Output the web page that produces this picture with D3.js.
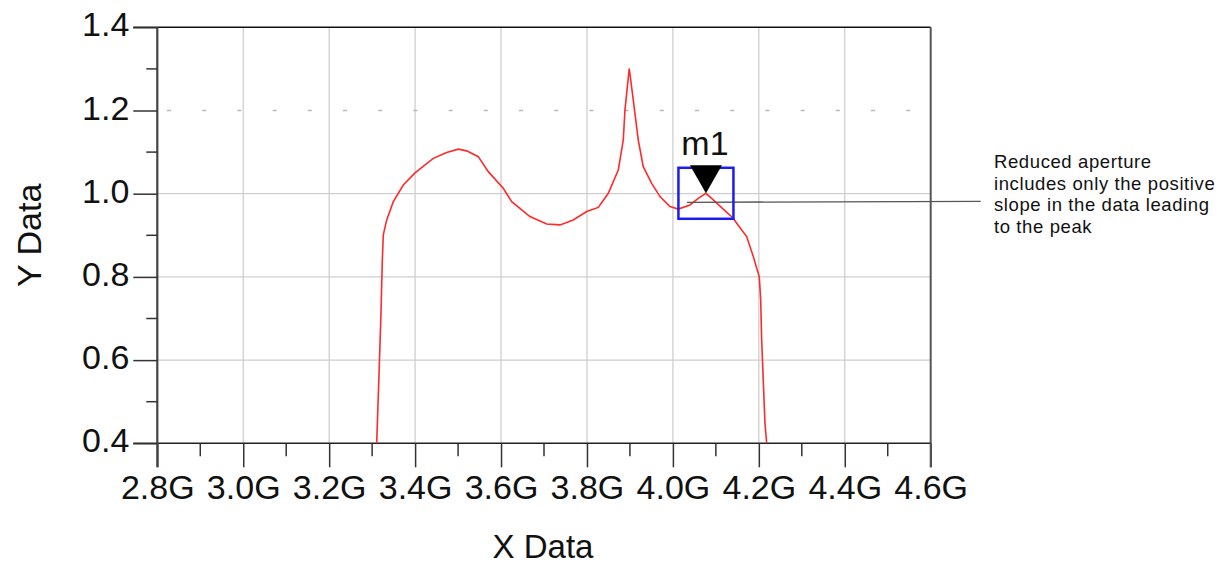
<!DOCTYPE html>
<html lang="en">
<head>
  <meta charset="UTF-8">
  <title>Y Data vs X Data</title>
  <script src="https://d3js.org/d3.v7.min.js"></script>
  <style>
    body {
      margin: 0;
      background: #fff;
      font-family: "Liberation Sans", Arial, sans-serif;
    }
  </style>
</head>
<body>
  <svg id="chart" width="1224" height="567"></svg>

<script>
// Trace (frequency in GHz)
const freqGHz = [3.3106, 3.3166, 3.3206, 3.3236, 3.326, 3.3339, 3.3493, 3.3725, 3.3997, 3.4423,
  3.4735, 3.5005, 3.52, 3.547, 3.5703, 3.6052, 3.6248, 3.6673, 3.7062, 3.7372,
  3.7681, 3.7993, 3.8263, 3.8496, 3.8729, 3.8845, 3.8884, 3.8984, 3.9078, 3.9194,
  3.931, 3.9506, 3.9699, 3.9932, 4.0125, 4.0397, 4.059, 4.0769, 4.0939, 4.1172,
  4.1405, 4.1484, 4.1717, 4.1871, 4.201, 4.2043, 4.2066, 4.2103, 4.2143, 4.2182];
const yData = [0.40, 0.584, 0.7125, 0.837, 0.901, 0.937, 0.981, 1.021, 1.050, 1.085,
  1.099, 1.107, 1.103, 1.089, 1.053, 1.013, 0.981, 0.945, 0.927, 0.925,
  0.937, 0.957, 0.967, 1.001, 1.057, 1.129, 1.201, 1.301, 1.225, 1.129,
  1.065, 1.025, 0.993, 0.969, 0.963, 0.973, 0.989, 1.001, 0.985, 0.963,
  0.941, 0.929, 0.897, 0.849, 0.800, 0.745, 0.648, 0.552, 0.448, 0.40];

const xTicks = [2.8, 3.0, 3.2, 3.4, 3.6, 3.8, 4.0, 4.2, 4.4, 4.6];
const xMinorTicks = [2.9, 3.1, 3.3, 3.5, 3.7, 3.9, 4.1, 4.3, 4.5];
const yTicks = [0.4, 0.6, 0.8, 1.0, 1.2, 1.4];
const yMinorTicks = [0.5, 0.7, 0.9, 1.1, 1.3];

// marker m1
const markerName = "m1";
const markerFreq = 4.0769;
const markerValue = 1.001;

const noteLines = [
  "Reduced aperture",
  "includes only the positive",
  "slope in the data leading",
  "to the peak"
];

const data = freqGHz.map((f, i) => ({ f, v: yData[i] }));

const svg = d3.select("#chart");
const plot = { left: 157.3, right: 930.7, top: 27.3, bottom: 443.3 };

const x = d3.scaleLinear().domain([2.8, 4.6]).range([plot.left, plot.right]);
const y = d3.scaleLinear().domain([0.4, 1.4]).range([plot.bottom, plot.top]);

// grid
svg.append("g")
  .selectAll("line")
  .data(xTicks.slice(1, -1))
  .enter().append("line")
  .attr("x1", d => x(d)).attr("x2", d => x(d))
  .attr("y1", plot.top).attr("y2", plot.bottom)
  .attr("stroke", "#cfcfcf").attr("stroke-width", 1.3);

svg.append("g")
  .selectAll("line")
  .data(yTicks.slice(1, -1))
  .enter().append("line")
  .attr("x1", plot.left).attr("x2", plot.right)
  .attr("y1", d => y(d)).attr("y2", d => y(d))
  .attr("stroke", d => d === 1.2 ? "#b8b8b8" : "#cfcfcf")
  .attr("stroke-width", 1.3)
  .attr("stroke-dasharray", d => d === 1.2 ? "4,31.2" : null)
  .attr("stroke-dashoffset", d => d === 1.2 ? 25.5 : null);

// frame: top border and right border
svg.append("line")
  .attr("x1", plot.left - 24).attr("x2", plot.right)
  .attr("y1", plot.top).attr("y2", plot.top)
  .attr("stroke", "#111").attr("stroke-width", 1.5);
svg.append("line")
  .attr("x1", plot.right).attr("x2", plot.right)
  .attr("y1", plot.top).attr("y2", plot.bottom)
  .attr("stroke", "#555").attr("stroke-width", 2);

// x axis
const xAxis = svg.append("g")
  .attr("transform", `translate(0,${plot.bottom})`)
  .call(d3.axisBottom(x).tickValues(xTicks).tickSize(24).tickSizeOuter(0)
    .tickFormat(d => d.toFixed(1) + "G"));
xAxis.select(".domain").attr("stroke", "#222").attr("stroke-width", 1.5)
  .attr("d", `M${plot.left - 24},0H${plot.right}`);
xAxis.selectAll(".tick line").attr("stroke", "#333").attr("stroke-width", 1.5);
xAxis.selectAll(".tick text")
  .attr("y", 32)
  .attr("dy", "0.71em")
  .style("font-family", "'Liberation Sans', Arial, sans-serif")
  .style("font-size", "34px")
  .attr("fill", "#111");

svg.append("g")
  .attr("transform", `translate(0,${plot.bottom})`)
  .selectAll("line")
  .data(xMinorTicks)
  .enter().append("line")
  .attr("x1", d => x(d)).attr("x2", d => x(d))
  .attr("y1", 0).attr("y2", 13)
  .attr("stroke", "#333").attr("stroke-width", 1.5);

// y axis
const yAxis = svg.append("g")
  .attr("transform", `translate(${plot.left},0)`)
  .call(d3.axisLeft(y).tickValues(yTicks).tickSize(24).tickSizeOuter(0)
    .tickFormat(d3.format(".1f")));
yAxis.select(".domain").attr("stroke", "#444").attr("stroke-width", 2.2)
  .attr("d", `M0,${plot.top}V${plot.bottom + 24}`);
yAxis.selectAll(".tick line").attr("stroke", "#333").attr("stroke-width", 1.5);
yAxis.selectAll(".tick text")
  .attr("x", -28)
  .attr("dy", "0.25em")
  .style("font-family", "'Liberation Sans', Arial, sans-serif")
  .style("font-size", "34px")
  .attr("fill", "#111");

svg.append("g")
  .attr("transform", `translate(${plot.left},0)`)
  .selectAll("line")
  .data(yMinorTicks)
  .enter().append("line")
  .attr("x1", -11).attr("x2", 0)
  .attr("y1", d => y(d)).attr("y2", d => y(d))
  .attr("stroke", "#333").attr("stroke-width", 1.5);

// right border extends down as the last major tick
svg.append("line")
  .attr("x1", plot.right).attr("x2", plot.right)
  .attr("y1", plot.bottom).attr("y2", plot.bottom + 24)
  .attr("stroke", "#555").attr("stroke-width", 2);

// axis titles
svg.append("text")
  .attr("x", (plot.left + plot.right) / 2 - 1)
  .attr("y", 558)
  .attr("text-anchor", "middle")
  .style("font-size", "33px")
  .attr("fill", "#111")
  .text("X Data");

svg.append("text")
  .attr("transform", `translate(41,${(plot.top + plot.bottom) / 2}) rotate(-90)`)
  .attr("text-anchor", "middle")
  .style("font-size", "34px")
  .attr("fill", "#111")
  .text("Y Data");

// trace
const line = d3.line()
  .x(d => x(d.f))
  .y(d => y(d.v));

svg.append("path")
  .datum(data)
  .attr("fill", "none")
  .attr("stroke", "#ff2a2a")
  .attr("stroke-width", 1.6)
  .attr("d", line);

// marker m1
const mx = x(markerFreq), my = y(markerValue);

// leader line to the note
svg.append("line")
  .attr("x1", mx - 19).attr("x2", plot.right + 50)
  .attr("y1", my + 9).attr("y2", my + 8)
  .attr("stroke", "#555").attr("stroke-width", 1.3);

svg.append("rect")
  .attr("x", mx - 27.5).attr("y", my - 25.5)
  .attr("width", 55).attr("height", 51)
  .attr("fill", "none")
  .attr("stroke", "#1c1cf0").attr("stroke-width", 2.5);

svg.append("path")
  .attr("d", `M${mx},${my} L${mx - 16},${my - 28} L${mx + 16},${my - 28} Z`)
  .attr("fill", "#000");

svg.append("text")
  .attr("x", mx - 1)
  .attr("y", my - 38)
  .attr("text-anchor", "middle")
  .style("font-size", "34px")
  .attr("fill", "#111")
  .text(markerName);

// note text
svg.append("g")
  .selectAll("text")
  .data(noteLines)
  .enter().append("text")
  .attr("x", 994)
  .attr("y", (d, i) => 168 + i * 21.7)
  .style("font-size", "18.5px")
  .style("letter-spacing", "0.6px")
  .attr("fill", "#111")
  .text(d => d);
</script>
</body>
</html>
